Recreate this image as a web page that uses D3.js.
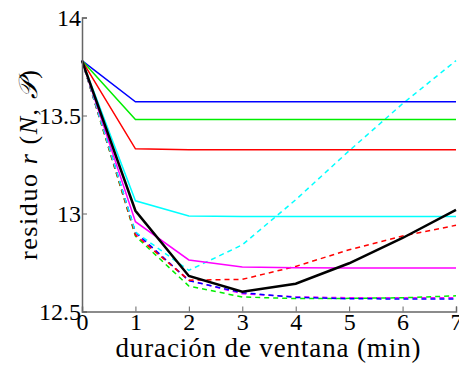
<!DOCTYPE html>
<html><head><meta charset="utf-8">
<script src="https://cdn.jsdelivr.net/npm/d3@7"></script>
<style>body{margin:0;background:#fff}svg{display:block}</style>
</head><body>
<svg id="c" width="459" height="367"></svg>
<script>
const xValues = [0,1,2,3,4,5,6,7];
const xTicks = [0,1,2,3,4,5,6,7];
const yTicks = [12.5,13,13.5,14];
const yTickLabels = ["12.5","13","13.5","14"];
const blueSolid   = [13.78,13.57,13.57,13.57,13.57,13.57,13.57,13.57];
const greenSolid  = [13.78,13.48,13.48,13.48,13.48,13.48,13.48,13.48];
const redSolid    = [13.78,13.33,13.325,13.325,13.325,13.325,13.325,13.325];
const cyanSolid   = [13.78,13.065,12.987,12.985,12.985,12.985,12.985,12.985];
const magentaSolid= [13.78,12.958,12.763,12.727,12.723,12.722,12.722,12.722];
const blackSolid  = [13.78,13.014,12.681,12.601,12.642,12.746,12.875,13.018];
const cyanDashed  = [13.78,12.905,12.71,12.84,13.07,13.32,13.56,13.78];
const redDashed   = [13.78,12.89,12.66,12.664,12.73,12.815,12.885,12.94];
const blueDashed  = [13.78,12.905,12.657,12.596,12.572,12.565,12.564,12.564];
const greenDashed = [13.78,12.885,12.63,12.574,12.566,12.567,12.57,12.58];
const magentaDashed=[13.78,12.9,12.66,12.59,12.575,12.57,12.57,12.57];

const series = [
  {v: magentaDashed, c:"#ff00ff", dash:true, w:1.5},
  {v: greenDashed, c:"#00ee00", dash:true, w:1.5},
  {v: blueDashed, c:"#0000ff", dash:true, w:1.5},
  {v: redDashed, c:"#ff0000", dash:true, w:1.5},
  {v: cyanDashed, c:"#00ffff", dash:true, w:1.5},
  {v: blueSolid, c:"#0000ff", dash:false, w:1.5},
  {v: greenSolid, c:"#00ee00", dash:false, w:1.5},
  {v: redSolid, c:"#ff0000", dash:false, w:1.5},
  {v: cyanSolid, c:"#00ffff", dash:false, w:1.5},
  {v: magentaSolid, c:"#ff00ff", dash:false, w:1.5},
  {v: blackSolid, c:"#000000", dash:false, w:2.5},
];

const svg = d3.select("#c");
const x = d3.scaleLinear().domain([0,7]).range([82,456]);
const y = d3.scaleLinear().domain([12.5,14]).range([311.5,17.5]);
const font = "'Liberation Serif', 'DejaVu Serif', serif";

const plot = svg.append("g");
const line = d3.line().x((d,i)=>x(xValues[i])).y(d=>y(d));
series.forEach(s=>{
  plot.append("path").attr("d", line(s.v)).attr("fill","none")
    .attr("stroke", s.c).attr("stroke-width", s.w)
    .attr("stroke-dasharray", s.dash ? "5,4" : null)
    .attr("stroke-linejoin","miter");
});

const axCol = "#666";
const xAxis = svg.append("g").attr("transform","translate(0,311.5)")
  .call(d3.axisBottom(x).tickValues(xTicks).tickSize(-5).tickPadding(4).tickFormat(d3.format("d")));
const yAxis = svg.append("g").attr("transform","translate(82,0)")
  .call(d3.axisLeft(y).tickValues(yTicks).tickSize(-5).tickPadding(1).tickFormat((d,i)=>yTickLabels[i]));
[xAxis,yAxis].forEach(a=>{
  a.select(".domain").attr("stroke",axCol).attr("stroke-width",1.5);
  a.selectAll(".tick line").attr("stroke",axCol).attr("stroke-width",1);
  a.selectAll("text").attr("fill","#000").style("font-family",font).style("font-size","24px");
});
xAxis.selectAll("text").attr("dy","0.6em");
yAxis.selectAll("text").attr("dy","0.35em");

svg.append("text").attr("x",268).attr("y",357).attr("text-anchor","middle")
  .attr("textLength",305).attr("lengthAdjust","spacing")
  .style("font-family",font).style("font-size","27px").text("duración de ventana (min)");

const yl = svg.append("text").attr("transform","translate(37,165) rotate(-90)")
  .attr("text-anchor","middle").attr("textLength",190).attr("lengthAdjust","spacing")
  .style("font-family",font).style("font-size","26px");
yl.append("tspan").text("residuo ");
yl.append("tspan").style("font-style","italic").text("r");
yl.append("tspan").text(" (");
yl.append("tspan").style("font-style","italic").text("N");
yl.append("tspan").text(", ");
yl.append("tspan").style("font-style","italic").text("𝒫");
yl.append("tspan").text(")");
</script>
</body></html>
